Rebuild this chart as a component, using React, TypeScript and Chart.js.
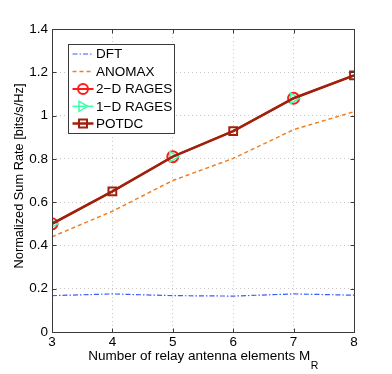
import React, { useEffect, useRef } from "react";
import { Chart, registerables } from "chart.js";

Chart.register(...registerables);

const xValues = [3, 4, 5, 6, 7, 8];
const dft = [0.168, 0.176, 0.168, 0.166, 0.176, 0.17];
const anomax = [0.44, 0.558, 0.7, 0.802, 0.935, 1.018];
const rages2d = [0.5, 0.65, 0.81, 0.928, 1.08, 1.186];
const rages1d = [0.5, 0.65, 0.81, 0.928, 1.08, 1.186];
const potdc = [0.5, 0.65, 0.81, 0.928, 1.08, 1.186];
const yTicks = [0, 0.2, 0.4, 0.6, 0.8, 1, 1.2, 1.4];
const legendLabels = ["DFT", "ANOMAX", "2\u2212D RAGES", "1\u2212D RAGES", "POTDC"];
const xTitle = "Number of relay antenna elements M";
const xTitleSub = "R";
const yTitle = "Normalized Sum Rate [bits/s/Hz]";

const FONT = "'Liberation Sans', Arial, sans-serif";
const C_DFT = "#3b5bff";
const C_ANO = "#f07f22";
const C_R2 = "#ff1a1a";
const C_R1 = "#3dffa8";
const C_POT = "#a0200c";

const pts = (arr: number[]) => arr.map((v, i) => ({ x: xValues[i], y: v }));

export default function App() {
  const ref = useRef<HTMLCanvasElement | null>(null);
  useEffect(() => {
    document.body.style.margin = "0";
    const ctx = ref.current!.getContext("2d")!;

    const decor = {
      id: "decor",
      afterDraw(chart: any) {
        const c = chart.ctx;
        const a = chart.chartArea;
        const xs = chart.scales.x;
        const ys = chart.scales.y;
        c.save();
        // box
        c.strokeStyle = "#3a3a3a";
        c.lineWidth = 1;
        const L = Math.round(a.left) + 0.5, T = Math.round(a.top) + 0.5;
        const R = Math.round(a.right) + 0.5, B = Math.round(a.bottom) + 0.5;
        c.strokeRect(L, T, R - L, B - T);
        // inward tick marks
        c.beginPath();
        xValues.forEach((v) => {
          const px = Math.round(xs.getPixelForValue(v)) + 0.5;
          c.moveTo(px, B); c.lineTo(px, B - 4);
          c.moveTo(px, T); c.lineTo(px, T + 4);
        });
        yTicks.forEach((v) => {
          const py = Math.round(ys.getPixelForValue(v)) + 0.5;
          c.moveTo(L, py); c.lineTo(L + 4, py);
          c.moveTo(R, py); c.lineTo(R - 4, py);
        });
        c.stroke();
        // x title with subscript
        c.fillStyle = "#000";
        c.font = "13.5px " + FONT;
        c.textBaseline = "alphabetic";
        const w = c.measureText(xTitle).width;
        c.font = "10.5px " + FONT;
        const ws = c.measureText(xTitleSub).width;
        const cx = (a.left + a.right) / 2;
        const x0 = cx - (w + ws) / 2;
        c.font = "13.5px " + FONT;
        c.textAlign = "left";
        c.fillText(xTitle, x0, 360);
        c.font = "10.5px " + FONT;
        c.fillText(xTitleSub, x0 + w + 0.5, 369);
        // y title
        c.save();
        c.translate(23, 176);
        c.rotate(-Math.PI / 2);
        c.font = "12.8px " + FONT;
        c.textAlign = "center";
        c.fillText(yTitle, 0, 0);
        c.restore();

        // legend
        const lx = 68, ly = 44, lw = 106, lh = 89;
        c.fillStyle = "#fff";
        c.fillRect(lx, ly, lw, lh);
        c.strokeStyle = "#3a3a3a";
        c.lineWidth = 1;
        c.strokeRect(lx + 0.5, ly + 0.5, lw, lh);
        const rows = [54, 71.5, 89, 106.3, 123.5];
        const colors = [C_DFT, C_ANO, C_R2, C_R1, C_POT];
        const dashes = [[5, 2, 1.5, 2], [4, 3], [], [], []];
        const widths = [1.2, 1.5, 2, 1.5, 2.5];
        rows.forEach((ry, i) => {
          c.strokeStyle = colors[i];
          c.lineWidth = widths[i];
          c.setLineDash(dashes[i]);
          c.beginPath();
          c.moveTo(72.5, ry);
          c.lineTo(93.5, ry);
          c.stroke();
          c.setLineDash([]);
          const mx = 83;
          if (i === 2) {
            c.lineWidth = 2;
            c.beginPath();
            c.arc(mx, ry, 5, 0, Math.PI * 2);
            c.stroke();
          } else if (i === 3) {
            c.lineWidth = 1.5;
            c.beginPath();
            c.moveTo(mx + 5, ry);
            c.lineTo(mx - 4, ry - 5);
            c.lineTo(mx - 4, ry + 5);
            c.closePath();
            c.stroke();
          } else if (i === 4) {
            c.lineWidth = 2;
            c.strokeRect(mx - 4, ry - 4, 8, 8);
          }
          c.fillStyle = "#000";
          c.font = "13.5px " + FONT;
          c.textAlign = "left";
          c.textBaseline = "middle";
          c.fillText(legendLabels[i], 96, ry + 0.5);
        });
        c.restore();
      },
    };

    const oddIdx = (r: number) => xValues.map((_, i) => (i % 2 === 0 ? r : 0));
    const evenIdx = (r: number) => xValues.map((_, i) => (i % 2 === 1 ? r : 0));

    const chart = new Chart(ctx, {
      type: "line",
      data: {
        datasets: [
          {
            label: legendLabels[0],
            data: pts(dft),
            borderColor: C_DFT,
            borderWidth: 1.2,
            borderDash: [5, 2, 1.5, 2],
            pointRadius: 0,
            order: 5,
          },
          {
            label: legendLabels[1],
            data: pts(anomax),
            borderColor: C_ANO,
            borderWidth: 1.5,
            borderDash: [4, 3],
            pointRadius: 0,
            order: 4,
          },
          {
            label: legendLabels[2],
            data: pts(rages2d),
            borderColor: C_R2,
            backgroundColor: "rgba(0,0,0,0)",
            borderWidth: 2,
            pointStyle: "circle",
            pointRadius: oddIdx(5.5),
            pointBorderWidth: 2,
            pointBorderColor: C_R2,
            pointBackgroundColor: "rgba(0,0,0,0)",
            order: 3,
          },
          {
            label: legendLabels[3],
            data: pts(rages1d),
            borderColor: C_R1,
            backgroundColor: "rgba(0,0,0,0)",
            borderWidth: 1.5,
            pointStyle: "triangle",
            pointRotation: 90,
            pointRadius: oddIdx(6),
            pointBorderWidth: 1.5,
            pointBorderColor: C_R1,
            pointBackgroundColor: "rgba(0,0,0,0)",
            order: 2,
          },
          {
            label: legendLabels[4],
            data: pts(potdc),
            borderColor: C_POT,
            backgroundColor: "rgba(0,0,0,0)",
            borderWidth: 2.5,
            pointStyle: "rect",
            pointRadius: evenIdx(5.5),
            pointBorderWidth: 2,
            pointBorderColor: C_POT,
            pointBackgroundColor: "rgba(0,0,0,0)",
            order: 1,
          },
        ],
      },
      options: {
        animation: false,
        responsive: false,
        layout: { padding: { top: 29, right: 38, left: 0, bottom: 0 } },
        plugins: { legend: { display: false }, tooltip: { enabled: false } },
        scales: {
          x: {
            type: "linear",
            min: 3,
            max: 8,
            afterFit: (s: any) => { s.height = 42; },
            afterBuildTicks: (s: any) => { s.ticks = xValues.map((v) => ({ value: v })); },
            grid: {
              color: "#c8c8c8",
              lineWidth: 1,
              drawTicks: false,
            },
            border: { display: false, dash: [1, 3] },
            ticks: {
              color: "#000",
              font: { family: FONT, size: 13.5 },
              padding: 2,
              maxRotation: 0,
            },
          },
          y: {
            type: "linear",
            min: 0,
            max: 1.4,
            afterFit: (s: any) => { s.width = 52; },
            afterBuildTicks: (s: any) => { s.ticks = yTicks.map((v) => ({ value: v })); },
            grid: {
              color: "#c8c8c8",
              lineWidth: 1,
              drawTicks: false,
            },
            border: { display: false, dash: [1, 3] },
            ticks: {
              color: "#000",
              font: { family: FONT, size: 13.5 },
              padding: 4,
              callback: (v: any) => String(Math.round(v * 10) / 10),
            },
          },
        },
      },
      plugins: [decor],
    } as any);
    return () => chart.destroy();
  }, []);
  return (
    <div style={{ width: 392, height: 374 }}>
      <canvas ref={ref} width={392} height={374} style={{ display: "block" }} />
    </div>
  );
}
